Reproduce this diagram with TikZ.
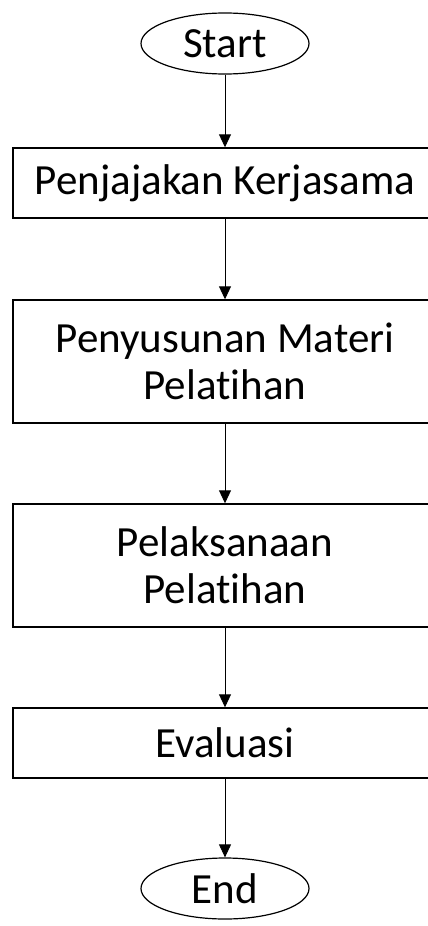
\documentclass[tikz,border=0pt]{standalone}
\usepackage{fontspec}
\setmainfont[Ligatures={NoCommon}]{Carlito}
\usetikzlibrary{shapes.geometric, arrows.meta}

\begin{document}
\begin{tikzpicture}[x=1pt, y=-1pt,
  proses/.style={draw, line width=1.4pt, minimum width=424pt, inner sep=0pt, align=center, font=\fontsize{43}{47}\selectfont},
  terminal/.style={ellipse, draw, line width=1.2pt, minimum width=168pt, minimum height=61pt, inner sep=0pt, font=\fontsize{43}{47}\selectfont},
  panah/.style={-{Triangle[width=12pt,length=13pt]}, line width=0.9pt}]
\useasboundingbox (0,0) rectangle (428,926);

\node[terminal] (start) at (225,43.5) {Start};
\node[proses, minimum height=70pt] (penjajakan) at (225,183) {Penjajakan Kerjasama};
\node[proses, minimum height=123pt] (penyusunan) at (225,361.5) {Penyusunan Materi\\Pelatihan};
\node[proses, minimum height=123pt] (pelaksanaan) at (225,565.5) {Pelaksanaan\\Pelatihan};
\node[proses, minimum height=70pt] (evaluasi) at (225,743) {Evaluasi};
\node[terminal] (selesai) at (225,888.5) {End};

\draw[panah] (start) -- (penjajakan);
\draw[panah] (penjajakan) -- (penyusunan);
\draw[panah] (penyusunan) -- (pelaksanaan);
\draw[panah] (pelaksanaan) -- (evaluasi);
\draw[panah] (evaluasi) -- (selesai);

\end{tikzpicture}
\end{document}
